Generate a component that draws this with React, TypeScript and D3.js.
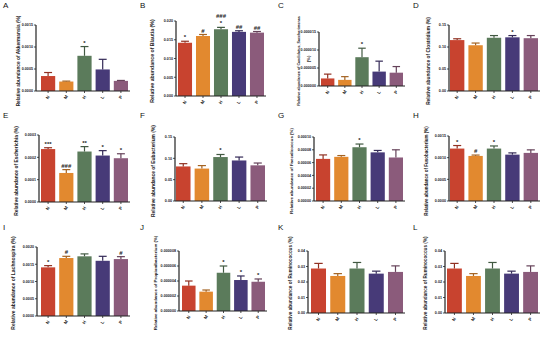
import React from 'react'
import * as d3 from 'd3'

const groups = ['N', 'M', 'H', 'L', 'P']
const groupColors = ['#c8432f', '#e2892f', '#5b7b5b', '#473a78', '#8b5b7b']

// A  Akkermansia
const akkMean = [0.00034, 0.000215, 0.0008, 0.00049, 0.00023]
const akkErr = [0.00008, 0.00001, 0.00021, 0.00023, 0.00001]
const akkSig = ['', '', '*', '', '']
const akkTicks = [0, 0.0005, 0.001, 0.0015]

// B  Blautia
const blaMean = [0.0142, 0.016, 0.0178, 0.0171, 0.0169]
const blaErr = [0.0004, 0.0004, 0.0005, 0.0003, 0.0003]
const blaSig = ['*', '#', '###|*', '##', '##']
const blaTicks = [0, 0.005, 0.01, 0.015, 0.02]

// C  Candidatus_Saccharimonas
const canMean = [2.1e-6, 1.7e-6, 8.0e-6, 4.0e-6, 3.7e-6]
const canErr = [1.2e-6, 0.9e-6, 2.5e-6, 2.9e-6, 1.7e-6]
const canSig = ['', '', '*', '', '']
const canTicks = [0, 5e-6, 1e-5, 1.5e-5]

// D  Clostridium
const cloMean = [0.1157, 0.104, 0.121, 0.122, 0.12]
const cloErr = [0.003, 0.005, 0.005, 0.004, 0.006]
const cloSig = ['', '', '', '*', '']
const cloTicks = [0, 0.05, 0.1, 0.15]

// E  Escherichia
const escMean = [0.000237, 0.00013, 0.000226, 0.000208, 0.000196]
const escErr = [0.000006, 0.000015, 0.000022, 0.000022, 0.00002]
const escSig = ['***', '###', '**', '*', '*']
const escTicks = [0, 0.0001, 0.0002, 0.0003]

// F  Eubacterium
const eubMean = [0.081, 0.076, 0.103, 0.095, 0.0836]
const eubErr = [0.0065, 0.007, 0.006, 0.008, 0.0054]
const eubSig = ['', '', '*', '', '']
const eubTicks = [0, 0.05, 0.1, 0.15]

// G  Faecalicoccus
const faeMean = [6.58e-5, 6.9e-5, 8.4e-5, 7.6e-5, 6.8e-5]
const faeErr = [0.62e-5, 0.2e-5, 0.5e-5, 0.3e-5, 1.2e-5]
const faeSig = ['', '', '*', '', '']
const faeTicks = [0, 2e-5, 4e-5, 6e-5, 8e-5, 1e-4]

// H  Fusobacterium
const fusMean = [0.00121, 0.00104, 0.00121, 0.00107, 0.00111]
const fusErr = [0.00007, 0.00002, 0.00006, 0.00004, 0.00007]
const fusSig = ['*', '#', '*', '', '']
const fusTicks = [0, 0.0005, 0.001, 0.0015]

// I  Lachnospira
const lacMean = [0.00141, 0.00168, 0.00173, 0.0016, 0.00165]
const lacErr = [0.00005, 0.00005, 0.00007, 0.00013, 0.00007]
const lacSig = ['*', '#', '', '', '#']
const lacTicks = [0, 0.0005, 0.001, 0.0015, 0.002]

// J  Propionibacterium
const proMean = [3.38e-6, 2.58e-6, 5.1e-6, 4.13e-6, 3.9e-6]
const proErr = [0.62e-6, 0.22e-6, 0.9e-6, 0.54e-6, 0.37e-6]
const proSig = ['', '', '*', '*', '*']
const proTicks = [0, 2e-6, 4e-6, 6e-6, 8e-6]

// K, L  Ruminococcus
const rumMean = [0.0287, 0.0239, 0.0287, 0.0254, 0.0265]
const rumErr = [0.0033, 0.0015, 0.0039, 0.0016, 0.0039]
const rumSig = ['', '', '', '', '']
const rumTicks = [0, 0.01, 0.02, 0.03, 0.04]

const panels = [
  { letter: 'A', title: ['Relative abundance of Akkermansia (%)'], mean: akkMean, err: akkErr, sig: akkSig, ticks: akkTicks, fmt: '.4f' },
  { letter: 'B', title: ['Relative abundance of Blautia (%)'], mean: blaMean, err: blaErr, sig: blaSig, ticks: blaTicks, fmt: '.3f' },
  { letter: 'C', title: ['Relative abundance of Candidatus_Saccharimonas', '(%)'], mean: canMean, err: canErr, sig: canSig, ticks: canTicks, fmt: '.6f' },
  { letter: 'D', title: ['Relative abundance of Clostridium (%)'], mean: cloMean, err: cloErr, sig: cloSig, ticks: cloTicks, fmt: '.2f' },
  { letter: 'E', title: ['Relative abundance of Escherichia (%)'], mean: escMean, err: escErr, sig: escSig, ticks: escTicks, fmt: '.4f' },
  { letter: 'F', title: ['Relative abundance of Eubacterium (%)'], mean: eubMean, err: eubErr, sig: eubSig, ticks: eubTicks, fmt: '.2f' },
  { letter: 'G', title: ['Relative abundance of Faecalicoccus (%)'], mean: faeMean, err: faeErr, sig: faeSig, ticks: faeTicks, fmt: '.5f' },
  { letter: 'H', title: ['Relative abundance of Fusobacterium (%)'], mean: fusMean, err: fusErr, sig: fusSig, ticks: fusTicks, fmt: '.4f' },
  { letter: 'I', title: ['Relative abundance of Lachnospira (%)'], mean: lacMean, err: lacErr, sig: lacSig, ticks: lacTicks, fmt: '.4f' },
  { letter: 'J', title: ['Relative abundance of Propionibacterium (%)'], mean: proMean, err: proErr, sig: proSig, ticks: proTicks, fmt: '.6f' },
  { letter: 'K', title: ['Relative abundance of Ruminococcus (%)'], mean: rumMean, err: rumErr, sig: rumSig, ticks: rumTicks, fmt: '.2f' },
  { letter: 'L', title: ['Relative abundance of Ruminococcus (%)'], mean: rumMean, err: rumErr, sig: rumSig, ticks: rumTicks, fmt: '.2f' },
]

// where each panel sits on the page
const layout = [
  { x0: 0, y0: 0, axisX: 36, top: 25, bottom: 91, barL: 41, barR: 128, titleX: 18, titleSize: 4.8 },
  { x0: 137, y0: 0, axisX: 176, top: 21, bottom: 96, barL: 178, barR: 264, titleX: 152, titleSize: 5.2 },
  { x0: 275, y0: 0, axisX: 319, top: 32, bottom: 86, barL: 321, barR: 403, titleX: 299, titleSize: 3.7 },
  { x0: 410, y0: 0, axisX: 449, top: 25, bottom: 91, barL: 450, barR: 538, titleX: 428, titleSize: 4.8 },
  { x0: 0, y0: 110, axisX: 39, top: 135, bottom: 202, barL: 41, barR: 128, titleX: 16, titleSize: 4.9 },
  { x0: 137, y0: 110, axisX: 175, top: 137, bottom: 201, barL: 176, barR: 265, titleX: 153, titleSize: 4.9 },
  { x0: 275, y0: 110, axisX: 314, top: 137, bottom: 201, barL: 316, barR: 403, titleX: 291, titleSize: 4.4 },
  { x0: 410, y0: 110, axisX: 449, top: 136, bottom: 201, barL: 450, barR: 538, titleX: 426, titleSize: 4.5 },
  { x0: 0, y0: 222, axisX: 37, top: 247, bottom: 316, barL: 41, barR: 128, titleX: 13, titleSize: 5.0 },
  { x0: 137, y0: 222, axisX: 179, top: 251, bottom: 311, barL: 182, barR: 265, titleX: 155, titleSize: 4.4 },
  { x0: 275, y0: 222, axisX: 308, top: 251, bottom: 313, barL: 311, barR: 403, titleX: 290, titleSize: 4.7 },
  { x0: 410, y0: 222, axisX: 445, top: 251, bottom: 313, barL: 447, barR: 538, titleX: 425, titleSize: 4.7 },
]

const font = '"Liberation Sans", Arial, sans-serif'
const axisColor = '#222'

function Panel({ p, lay }: { p: any; lay: any }) {
  const y = d3.scaleLinear().domain([0, p.ticks[p.ticks.length - 1]]).range([lay.bottom, lay.top])
  const x = d3.scaleBand().domain(groups).range([lay.barL, lay.barR]).paddingInner(0.22).paddingOuter(0)
  const fmt = d3.format(p.fmt)
  const titleY = lay.y0 + 61
  const bw = x.bandwidth()

  return (
    <g>
      <text x={lay.x0 + 3} y={lay.y0 + 8} fontSize={8} fontFamily={font} fill="#111">
        {p.letter}
      </text>

      {/* bars + error bars */}
      {groups.map((gname, i) => {
        const bx = x(gname) as number
        const cx = bx + bw / 2
        const yTop = y(p.mean[i])
        const yErr = y(p.mean[i] + p.err[i])
        const dark = d3.color(groupColors[i])!.darker(0.9).formatHex()
        const lines = p.sig[i] ? p.sig[i].split('|').reverse() : []
        return (
          <g key={gname}>
            <rect x={bx} y={yTop} width={bw} height={lay.bottom - yTop} fill={groupColors[i]} />
            <line x1={cx} x2={cx} y1={yTop} y2={yErr} stroke={dark} strokeWidth={1.2} />
            <line x1={cx - bw * 0.28} x2={cx + bw * 0.28} y1={yErr} y2={yErr} stroke={dark} strokeWidth={1.2} />
            {lines.map((s: string, k: number) => (
              <text key={k} x={cx} y={yErr - 2 - k * 7} fontSize={6} fontWeight="bold" textAnchor="middle" fontFamily={font} fill="#222">
                {s}
              </text>
            ))}
          </g>
        )
      })}

      {/* y axis */}
      <line x1={lay.axisX} x2={lay.axisX} y1={lay.top} y2={lay.bottom} stroke={axisColor} strokeWidth={1.2} />
      {p.ticks.map((t: number) => (
        <g key={t}>
          <line x1={lay.axisX - 2} x2={lay.axisX} y1={y(t)} y2={y(t)} stroke={axisColor} strokeWidth={0.8} />
          <text x={lay.axisX - 3} y={y(t)} dy="0.35em" fontSize={3.7} fontWeight="bold" textAnchor="end" fontFamily={font} fill="#222">
            {fmt(t)}
          </text>
        </g>
      ))}

      {/* x axis */}
      <line x1={lay.axisX} x2={lay.barR + 2} y1={lay.bottom} y2={lay.bottom} stroke={axisColor} strokeWidth={1.2} />
      {groups.map((gname) => {
        const cx = (x(gname) as number) + bw / 2
        return (
          <g key={gname}>
            <line x1={cx} x2={cx} y1={lay.bottom} y2={lay.bottom + 2} stroke={axisColor} strokeWidth={0.8} />
            <text
              transform={`translate(${cx + 1},${lay.bottom + 7}) rotate(-60)`}
              fontSize={4.5}
              fontWeight="bold"
              textAnchor="middle"
              fontFamily={font}
              fill="#222"
            >
              {gname}
            </text>
          </g>
        )
      })}

      {/* y title */}
      {p.title.length === 1 ? (
        <text
          transform={`translate(${lay.titleX},${titleY}) rotate(-90)`}
          fontSize={lay.titleSize}
          fontWeight="bold"
          textAnchor="middle"
          dominantBaseline="central"
          fontFamily={font}
          fill="#222"
        >
          {p.title[0]}
        </text>
      ) : (
        <g>
          <text
            transform={`translate(${lay.titleX},${titleY}) rotate(-90)`}
            fontSize={lay.titleSize}
            fontWeight="bold"
            textAnchor="middle"
            dominantBaseline="central"
            fontFamily={font}
            fill="#222"
          >
            {p.title[0]}
          </text>
          <text
            transform={`translate(${lay.titleX + 9},${titleY - 2}) rotate(-90)`}
            fontSize={lay.titleSize + 0.6}
            fontWeight="bold"
            textAnchor="middle"
            dominantBaseline="central"
            fontFamily={font}
            fill="#222"
          >
            {p.title[1]}
          </text>
        </g>
      )}
    </g>
  )
}

export default function App() {
  return (
    <svg
      width={550}
      height={339}
      viewBox="0 0 550 339"
      style={{ position: 'absolute', left: 0, top: 0, background: '#fff' }}
    >
      {panels.map((p, i) => (
        <Panel key={p.letter} p={p} lay={layout[i]} />
      ))}
    </svg>
  )
}
